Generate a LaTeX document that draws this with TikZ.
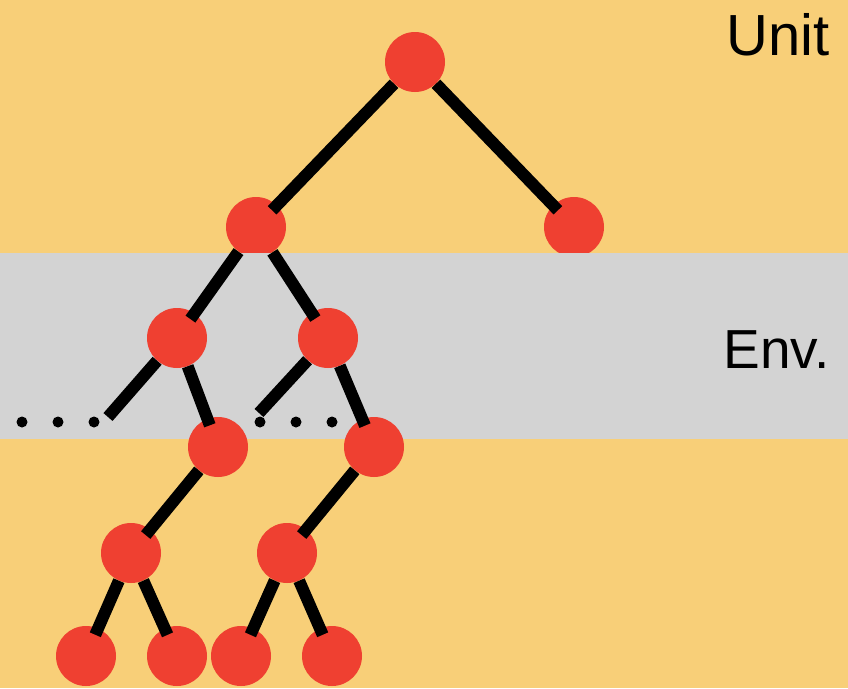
\documentclass[tikz,border=0pt]{standalone}
\usepackage{fontspec}
\setmainfont{Liberation Sans}
\usetikzlibrary{calc}

\definecolor{unitbg}{HTML}{F8CF78}
\definecolor{envbg}{HTML}{D3D3D3}
\definecolor{vred}{HTML}{EF4031}

\begin{document}
\begin{tikzpicture}[x=1pt, y=-1pt,
		vert/.style={circle, fill=vred, minimum size=60pt, inner sep=0pt},
		edge/.style={line width=12pt, black},
		into/.style={shorten >=-7pt},
		lbl/.style={anchor=base east, font=\fontsize{58}{58}\selectfont}]
		\useasboundingbox (0,0) rectangle (848,688);
		\fill[unitbg] (0,0) rectangle (848,688);
		% unit part of the tree
		\node[vert] (root) at (415,62) {};
		\node[vert] (a) at (256,227) {};
		\node[vert] (b) at (574,227) {};
		% environment band
		\fill[envbg] (0,253) rectangle (848,439);
		\node[vert] (c) at (177,338) {};
		\node[vert] (d) at (328,338) {};
		\node[vert] (e) at (218,447) {};
		\node[vert] (f) at (374,447) {};
		\node[vert] (g) at (131,553) {};
		\node[vert] (h) at (287,553) {};
		\node[vert] (l1) at (86,656) {};
		\node[vert] (l2) at (177,656) {};
		\node[vert] (l3) at (241,656) {};
		\node[vert] (l4) at (332,656) {};
		\coordinate (cend) at (108,417);
		\coordinate (dend) at (259,413);
		\draw[edge, into] (root) -- (a);
		\draw[edge, into] (root) -- (b);
		\draw[edge, into] (a) -- (c);
		\draw[edge, into] (a) -- (d);
		\draw[edge] (c) -- (cend);
		\draw[edge, into] (c) -- (e);
		\draw[edge] (d) -- (dend);
		\draw[edge, into] (d) -- (f);
		\draw[edge, into] (e) -- (g);
		\draw[edge, into] (f) -- (h);
		\draw[edge, into] (g) -- (l1);
		\draw[edge, into] (g) -- (l2);
		\draw[edge, into] (h) -- (l3);
		\draw[edge, into] (h) -- (l4);
		\foreach \x in {22,58,94,260,296,332}
			\fill (\x,422) circle (5.5);
		\node[lbl] (unit) at (833,55) {Unit};
		\node[lbl, font=\fontsize{55}{55}\selectfont] (env) at (833,368) {Env.};
	\end{tikzpicture}
\end{document}
